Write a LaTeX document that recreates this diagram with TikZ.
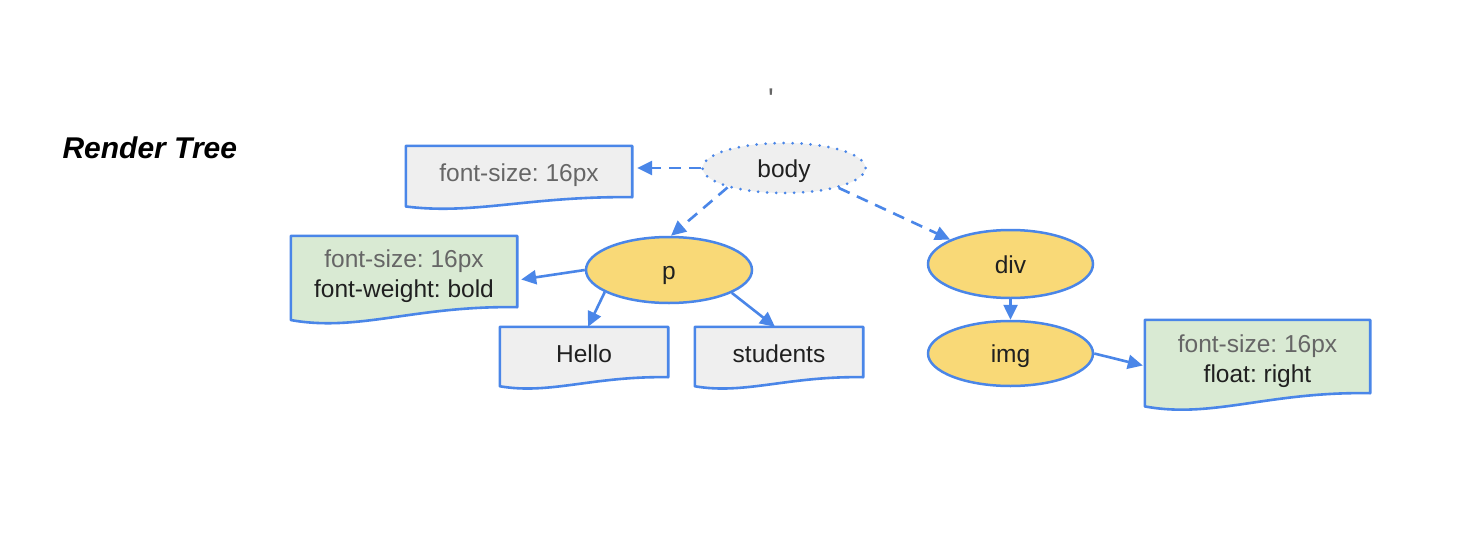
\documentclass[tikz,border=0pt]{standalone}
\usepackage{fontspec}
\setmainfont{Liberation Sans}
\newfontfamily\plainfont{Liberation Sans}
\frenchspacing
\usetikzlibrary{shapes.geometric,arrows.meta,calc}
\definecolor{lineblue}{HTML}{4A86E8}
\definecolor{nodeyellow}{HTML}{F9D977}
\definecolor{docgreen}{HTML}{D9EAD3}
\definecolor{docgray}{HTML}{EFEFEF}
\definecolor{greytext}{HTML}{666666}
\definecolor{darktext}{HTML}{202020}
\pgfdeclarelayer{background}
\pgfdeclarelayer{canvas}
\pgfsetlayers{canvas,background,main}
\tikzset{
  every node/.style={font=\fontsize{24.5}{30}\selectfont, text=darktext},
  docnode/.style={rectangle, draw=none, inner sep=0pt, align=center},
  oneline/.style={text height=26pt, text depth=6pt},
  elnode/.style={ellipse, draw=lineblue, line width=2.5pt, fill=nodeyellow, inner sep=0pt,
    text height=24pt, text depth=6pt},
  dotnode/.style={ellipse, draw=lineblue, line width=3pt, fill=docgray, inner sep=0pt,
    dash pattern=on 0pt off 9pt, line cap=round, text height=24pt, text depth=6pt},
  link/.style={draw=lineblue, line width=2.6pt, -{Triangle[length=15pt,width=14pt]}},
  dashlink/.style={link, dash pattern=on 12pt off 8pt},
  docline/.style={draw=lineblue, line width=2.6pt, line join=round},
}
\newcommand\twolines[2]{\raisebox{-5pt}[\height][\depth]{\begin{tabular}{@{}c@{}}#1\\#2\end{tabular}}}
\newcommand\docshape[2]{%
  \begin{pgfonlayer}{background}
  \path[docline, fill=#2] let \p1=(#1.north west), \p2=(#1.south east),
      \n1={\x2-\x1}, \n2={\y1-\y2} in
    (\p1) -- (\x2,\y1) -- (\p2)
    .. controls ({\x1+0.55*\n1},{\y2+0.025*\n2}) and ({\x1+0.3*\n1},{\y2-0.35*\n2}) ..
    (\x1,{\y2-0.18*\n2}) -- cycle;
  \end{pgfonlayer}}
\begin{document}
\begin{tikzpicture}[x=1pt,y=1pt]
\useasboundingbox (0,0) rectangle (1462,-554);
\begin{pgfonlayer}{canvas}
\fill[white] (0,0) rectangle (1462,-554);
\end{pgfonlayer}

\node[anchor=base west, font=\fontsize{30}{36}\selectfont\bfseries\itshape, text=black] (title) at (59,-158) {Render Tree};
\node[anchor=base, font=\fontsize{30}{36}\plainfont, text=greytext] (tick) at (771,-109.5) {'};

% ellipses
\node[dotnode, minimum width=163pt, minimum height=50pt] (body) at (784,-168) {body};
\node[elnode, minimum width=166pt, minimum height=66pt] (p) at (669,-270) {p};
\node[elnode, minimum width=165pt, minimum height=68pt] (div) at (1010.5,-264) {div};
\node[elnode, minimum width=165pt, minimum height=65pt] (img) at (1010.5,-353.5) {img};

% document shapes
\node[docnode, oneline, minimum width=226pt, minimum height=51pt] (fs1) at (519,-171.5) {\textcolor{greytext}{font-size: 16px}};
\node[docnode, minimum width=226pt, minimum height=71pt] (green1) at (404,-271.5) {\twolines{\textcolor{greytext}{font-size: 16px}}{font-weight: bold}};
\node[docnode, oneline, minimum width=168pt, minimum height=50pt] (hello) at (584,-352) {Hello};
\node[docnode, oneline, minimum width=168pt, minimum height=50pt] (students) at (779,-352) {students};
\node[docnode, minimum width=225pt, minimum height=73pt] (green2) at (1257.5,-356.5) {\twolines{\textcolor{greytext}{font-size: 16px}}{float: right}};

\docshape{fs1}{docgray}
\docshape{green1}{docgreen}
\docshape{hello}{docgray}
\docshape{students}{docgray}
\docshape{green2}{docgreen}

% connectors
\draw[dashlink] (body.west) -- ([xshift=5pt]body.west -| fs1.east);
\draw[dashlink] (body.199) -- ([xshift=2pt]p.north);
\draw[dashlink] (body.-20) -- (div.158);
\draw[link] (p.west) -- ($(green1.east)+(4,-8)$);
\draw[link] (p.199) -- ([xshift=4pt]hello.north);
\draw[link] (p.-20) -- ([xshift=-4pt]students.north);
\draw[link] (div.south) -- (img.north);
\draw[link] (img.east) -- ([xshift=-2pt,yshift=-9pt]green2.west);
\end{tikzpicture}
\end{document}
